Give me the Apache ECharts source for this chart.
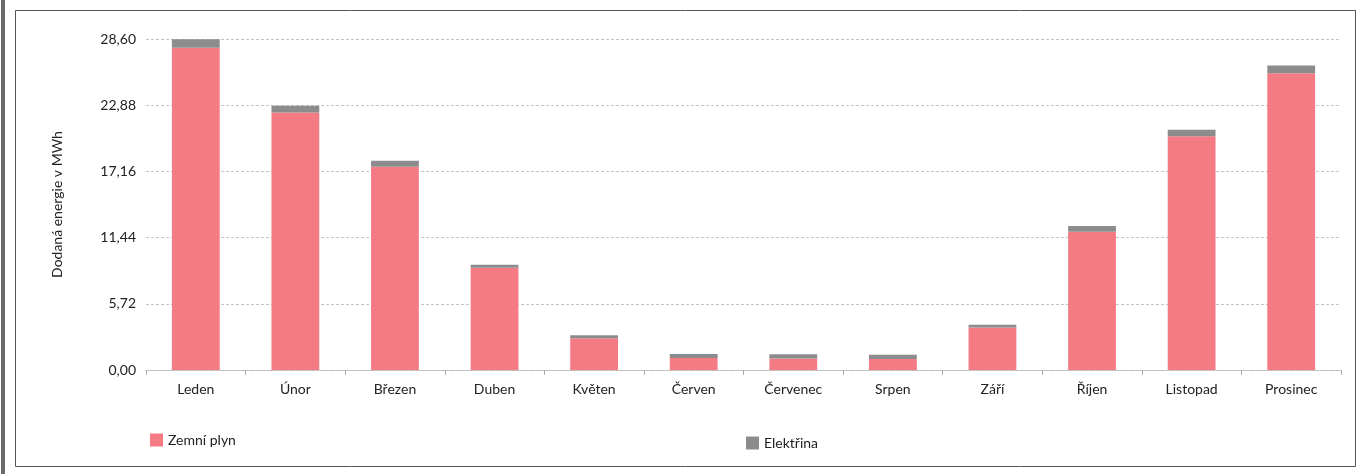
<!DOCTYPE html>
<html>
<head>
<meta charset="utf-8">
<script src="https://cdn.jsdelivr.net/npm/echarts@6/dist/echarts.min.js"></script>
<style>
html,body{margin:0;padding:0;background:#fff;}
#c{width:1363px;height:474px;}
</style>
</head>
<body>
<div id="c"></div>
<script>
const categories = ['Leden','Únor','Březen','Duben','Květen','Červen','Červenec','Srpen','Září','Říjen','Listopad','Prosinec'];
const zemniPlyn = [27.85, 22.25, 17.57, 8.84, 2.74, 1.04, 1.00, 0.96, 3.68, 11.95, 20.20, 25.65];
const elektrina = [0.72, 0.58, 0.50, 0.26, 0.26, 0.34, 0.36, 0.36, 0.24, 0.50, 0.55, 0.66];
const yTicks = [0, 5.72, 11.44, 17.16, 22.88, 28.60];

const font = 'Lato, "Open Sans", sans-serif';
const chart = echarts.init(document.getElementById('c'), null, {renderer:'canvas'});
chart.setOption({
  animation: false,
  backgroundColor: '#fff',
  graphic: [
    {type:'rect', shape:{x:15.5, y:10.5, width:1340, height:456}, style:{fill:'none', stroke:'#555', lineWidth:1}},
    {type:'rect', shape:{x:1, y:0, width:4, height:474}, style:{fill:'#6a6a6a'}}
  ],
  grid: {left:146, right:22, top:39, bottom:104, containLabel:false},
  legend: [
    {data:['Zemní plyn'], left:145, top:428, itemWidth:13, itemHeight:13, icon:'rect', itemGap:6,
     textStyle:{fontFamily:font, fontSize:14, color:'#222'}},
    {data:['Elektřina'], left:741, top:431, itemWidth:13, itemHeight:13, icon:'rect',
     textStyle:{fontFamily:font, fontSize:14, color:'#222'}}
  ],
  xAxis: {
    type:'category', data:categories,
    axisLine:{show:true, lineStyle:{color:'#bbb', type:'dotted', width:1}},
    axisTick:{show:true, length:5, lineStyle:{color:'#aaa'}},
    axisLabel:{fontFamily:font, fontSize:14, color:'#222', margin:12}
  },
  yAxis: {
    type:'value', min:0, max:28.6, interval:5.72,
    name:'Dodaná energie v MWh', nameLocation:'middle', nameGap:82, nameRotate:90,
    nameTextStyle:{fontFamily:font, fontSize:14, color:'#222'},
    axisLine:{show:false}, axisTick:{show:false},
    axisLabel:{fontFamily:font, fontSize:14, color:'#222', margin:10,
      formatter: v => { const t = yTicks.find(x => Math.abs(x - v) < 1e-6); return (t !== undefined ? t : v).toFixed(2).replace('.', ','); }},
    splitLine:{show:true, lineStyle:{color:'#c4c4c4', type:[3,2], width:1}}
  },
  series: [
    {name:'Zemní plyn', type:'bar', stack:'e', data:zemniPlyn, barWidth:'48%',
     itemStyle:{color:'#F47A83'}},
    {name:'Elektřina', type:'bar', stack:'e', data:elektrina, barWidth:'48%',
     itemStyle:{color:'#8C8C8E'}}
  ]
});
</script>
</body>
</html>
